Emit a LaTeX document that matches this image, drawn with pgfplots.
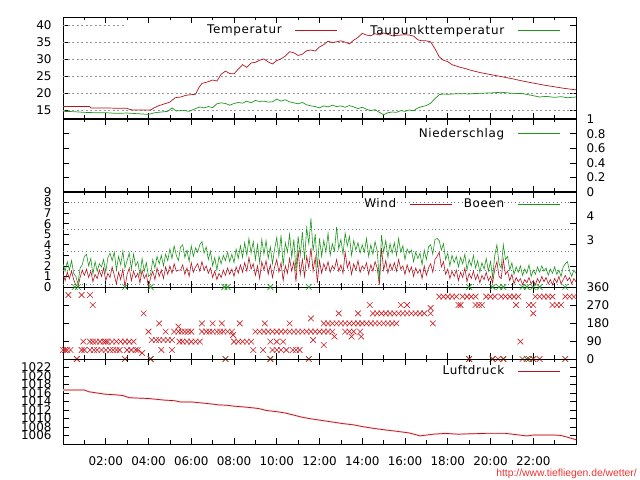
\documentclass[border=0pt]{standalone}
\usepackage{pgfplots}
\pgfplotsset{compat=1.18}
\usepackage{pgfplotstable}
\usepackage{fontspec}
\setmainfont{DejaVu Sans}
\newfontfamily\keyfont[LetterSpace=5.5]{DejaVu Sans}
\newfontfamily\urlfont{Liberation Sans}
\definecolor{gred}{RGB}{180,20,32}
\definecolor{ggreen}{RGB}{30,150,30}
\definecolor{xred}{RGB}{205,30,35}
\definecolor{gridgray}{RGB}{150,150,150}
\definecolor{dotgray}{RGB}{100,125,135}
\definecolor{urlred}{RGB}{240,50,50}

\pgfplotstableread{
h v
0.0 16.0
0.5 16.0
1.0 16.0
1.25 16.0
1.3 15.6
1.6 15.6
2.0 15.6
2.5 15.5
3.0 15.5
3.1 15.2
3.25 15.0
3.6 15.0
4.1 15.0
4.25 15.6
4.5 16.3
4.75 16.8
5.0 17.3
5.25 18.6
5.5 18.8
5.75 19.3
6.0 19.5
6.2 19.6
6.35 21.5
6.5 22.8
6.75 23.2
7.0 23.8
7.2 23.5
7.4 25.5
7.6 26.4
7.8 25.7
8.0 25.6
8.2 27.0
8.4 28.3
8.6 27.5
8.8 28.8
9.0 29.0
9.2 29.6
9.4 30.0
9.6 29.1
9.8 28.5
10.0 29.5
10.2 30.0
10.4 30.8
10.6 32.1
10.8 31.8
11.0 31.0
11.2 31.4
11.4 32.4
11.6 32.6
11.8 32.3
12.0 33.5
12.2 34.2
12.4 35.2
12.6 34.8
12.8 35.0
13.0 35.3
13.2 34.9
13.4 34.4
13.6 35.5
13.8 36.3
14.0 37.5
14.2 37.0
14.4 36.8
14.6 37.4
14.8 37.0
15.0 37.6
15.2 37.2
15.4 36.8
15.6 36.9
15.8 37.0
16.0 37.1
16.2 37.0
16.4 36.7
16.6 35.6
16.8 35.3
17.0 35.3
17.2 35.0
17.4 33.0
17.6 30.6
17.8 29.6
18.0 29.2
18.2 28.3
18.4 27.9
18.6 27.5
18.8 27.2
19.0 26.8
19.5 26.0
20.0 25.4
20.5 24.8
21.0 24.2
21.5 23.5
22.0 22.9
22.5 22.3
23.0 21.8
23.5 21.3
24.0 20.9
}\temptable

\pgfplotstableread{
h v
0.0 14.6
0.5 14.5
1.0 14.3
1.5 14.2
2.0 14.2
2.5 14.0
3.0 14.1
3.5 13.9
4.0 13.7
4.3 14.2
4.6 14.4
4.9 14.6
5.1 15.6
5.3 14.7
5.6 14.9
5.9 14.6
6.2 15.4
6.4 15.9
6.6 15.6
6.8 16.0
7.0 15.7
7.2 16.8
7.4 17.1
7.6 16.9
7.8 16.4
8.0 16.9
8.2 17.2
8.4 17.0
8.6 17.6
8.8 17.1
9.0 17.8
9.2 17.5
9.4 17.6
9.6 17.3
9.8 17.4
10.0 18.2
10.2 17.6
10.4 18.0
10.6 17.4
10.8 17.1
11.0 16.8
11.2 17.2
11.4 16.5
11.6 16.2
11.8 16.0
12.0 15.6
12.2 16.2
12.4 15.9
12.6 16.4
12.8 16.0
13.0 16.2
13.2 15.8
13.4 16.3
13.6 15.9
13.8 15.4
14.0 15.8
14.2 15.2
14.4 14.8
14.6 15.1
14.8 14.3
15.0 13.6
15.2 14.2
15.4 14.4
15.6 14.3
15.8 14.8
16.0 14.6
16.2 15.0
16.4 14.8
16.6 15.6
16.8 16.0
17.0 16.3
17.2 17.0
17.4 18.3
17.6 19.5
17.8 19.7
18.0 19.6
18.5 19.8
19.0 19.7
19.5 19.9
20.0 20.0
20.5 20.2
21.0 19.9
21.5 19.8
22.0 19.2
22.3 18.8
22.6 19.0
23.0 18.7
23.3 18.9
23.6 18.6
24.0 18.8
}\dewtable

\pgfplotstableread{
h w g
0.0 1.2 2.2
0.1 0.6 1.5
0.2 1.4 2.4
0.3 0.8 1.6
0.4 1.5 2.5
0.5 0.7 1.3
0.6 0.2 1.0
0.7 0.0 0.3
0.8 0.9 1.8
0.9 1.6 2.1
1.0 1.1 2.9
1.1 1.7 3.1
1.2 0.9 2.0
1.3 1.5 2.7
1.4 0.5 1.2
1.5 1.2 2.4
1.6 0.8 1.5
1.7 1.6 2.2
1.8 1.0 1.9
1.9 1.8 2.6
2.0 0.6 1.4
2.1 1.3 2.8
2.2 0.9 3.2
2.3 1.9 2.5
2.4 1.1 3.3
2.5 0.3 1.6
2.6 1.4 2.9
2.7 0.7 2.1
2.8 1.7 3.4
2.9 0.0 1.8
3.0 1.2 2.5
3.1 1.8 3.2
3.2 0.6 1.7
3.3 1.5 3.1
3.4 0.9 2.0
3.5 1.3 2.4
3.6 0.4 1.1
3.7 1.6 2.7
3.8 0.8 1.5
3.9 1.2 2.3
4.0 0.0 1.0
4.1 0.9 1.2
4.2 1.5 2.6
4.3 0.7 1.8
4.4 1.8 2.9
4.5 1.0 2.2
4.6 1.6 3.0
4.7 0.8 2.0
4.8 1.9 3.1
4.9 1.2 2.5
5.0 2.0 3.6
5.1 1.3 2.7
5.2 2.2 3.9
5.3 1.5 3.0
5.4 1.6 2.5
5.5 1.6 3.8
5.6 2.1 4.0
5.7 1.2 2.8
5.8 1.8 3.5
5.9 1.0 2.4
6.0 2.3 3.9
6.1 1.4 2.9
6.2 1.9 3.7
6.3 2.2 3.3
6.4 1.5 4.0
6.5 2.4 4.3
6.6 1.6 3.2
6.7 2.0 3.8
6.8 1.3 2.6
6.9 1.8 3.4
7.0 0.9 2.0
7.1 1.5 2.8
7.2 0.7 1.6
7.3 1.3 2.9
7.4 0.9 2.2
7.5 1.6 3.0
7.6 1.1 2.5
7.7 1.8 3.3
7.8 1.2 2.4
7.9 1.7 3.1
8.0 1.0 2.3
8.1 1.9 3.6
8.2 1.3 2.7
8.3 2.1 3.9
8.4 1.4 2.8
8.5 2.3 4.2
8.6 1.5 3.0
8.7 2.8 4.6
8.8 1.7 3.2
8.9 2.2 4.3
9.0 1.1 2.6
9.1 2.0 4.0
9.2 0.8 2.3
9.3 2.4 4.5
9.4 1.6 3.1
9.5 2.5 4.4
9.6 1.2 2.7
9.7 2.1 3.8
9.8 0.9 2.2
9.9 1.9 3.6
10.0 2.6 4.7
10.1 1.4 2.9
10.2 2.3 4.9
10.3 0.6 2.0
10.4 2.0 4.2
10.5 1.3 3.3
10.6 2.7 5.0
10.7 1.5 2.8
10.8 2.4 4.5
10.9 0.5 1.5
11.0 3.5 4.8
11.1 1.2 3.0
11.2 2.6 5.2
11.3 1.0 2.6
11.4 2.9 5.6
11.5 1.8 4.1
11.6 3.7 6.5
11.7 1.5 3.4
11.8 2.8 5.0
11.9 0.4 1.8
12.0 2.5 4.6
12.1 1.3 2.9
12.2 2.2 4.4
12.3 1.6 3.3
12.4 2.4 5.1
12.5 1.4 3.0
12.6 2.0 4.1
12.7 1.7 3.4
12.8 2.6 5.7
12.9 1.5 3.6
13.0 2.1 4.5
13.1 1.3 3.1
13.2 3.3 5.1
13.3 1.8 3.9
13.4 2.4 4.8
13.5 1.2 3.0
13.6 2.2 4.4
13.7 1.6 3.5
13.8 2.5 4.2
13.9 1.4 3.2
14.0 2.0 4.0
14.1 1.7 3.3
14.2 2.3 4.6
14.3 1.2 2.9
14.4 2.1 4.0
14.5 1.5 3.1
14.6 2.4 4.3
14.7 1.8 3.4
14.8 0.2 0.7
14.9 3.7 4.9
15.0 1.6 3.3
15.1 2.5 4.4
15.2 1.3 2.8
15.3 2.2 4.1
15.4 1.6 3.2
15.5 2.3 4.2
15.6 1.5 3.0
15.7 2.6 4.6
15.8 1.7 3.3
15.9 2.0 3.9
16.0 1.2 2.6
16.1 2.1 3.6
16.2 1.4 3.2
16.3 1.9 3.5
16.4 1.0 2.4
16.5 1.8 3.3
16.6 1.3 2.7
16.7 1.7 3.2
16.8 0.8 2.1
16.9 2.0 3.5
17.0 1.1 2.6
17.1 1.8 3.8
17.2 2.2 4.0
17.3 1.4 3.1
17.4 2.6 4.5
17.5 2.9 4.6
17.6 3.3 4.4
17.7 1.9 3.5
17.8 2.4 4.1
17.9 1.2 2.6
18.0 1.7 3.2
18.1 0.8 2.0
18.2 1.5 3.0
18.3 1.0 2.3
18.4 1.6 2.9
18.5 0.6 1.9
18.6 1.4 2.8
18.7 0.9 2.2
18.8 1.8 3.1
18.9 0.5 1.6
19.0 1.3 2.6
19.1 0.8 2.0
19.2 1.5 3.0
19.3 0.7 1.8
19.4 1.2 2.5
19.5 0.4 1.4
19.6 1.1 2.3
19.7 0.7 1.7
19.8 1.4 2.7
19.9 0.6 1.5
20.0 1.0 2.4
20.1 0.4 0.9
20.2 1.7 3.0
20.3 2.4 4.0
20.4 1.0 2.2
20.5 0.8 1.8
20.6 2.6 4.0
20.7 1.2 2.6
20.8 1.5 2.9
20.9 0.6 1.6
21.0 1.2 2.3
21.1 0.3 1.2
21.2 0.9 1.9
21.3 0.5 1.4
21.4 0.8 2.0
21.5 0.2 1.1
21.6 0.7 1.7
21.7 0.4 1.3
21.8 0.9 2.1
21.9 0.3 1.0
22.0 0.6 1.6
22.1 0.2 1.2
22.2 0.8 1.9
22.3 0.4 1.4
22.4 1.0 2.0
22.5 0.5 1.5
22.6 0.9 1.8
22.7 0.3 1.1
22.8 0.7 1.7
22.9 0.2 1.3
23.0 0.8 1.9
23.1 0.4 1.2
23.2 1.0 1.6
23.3 0.3 1.0
23.4 0.7 1.9
23.5 1.1 2.2
23.6 0.6 2.4
23.7 0.9 1.5
23.8 0.3 1.0
23.9 0.8 1.6
24.0 0.5 1.3
}\windtable

\pgfplotstableread{
h d
0.0 45
0.1 45
0.2 45
0.35 45
0.25 320
0.87 320
1.26 320
1.39 270
0.65 0
0.87 45
1.0 45
1.26 45
0.95 87
1.26 87
1.4 87
1.55 87
1.73 87
1.9 87
2.0 87
2.1 87
2.3 87
2.5 87
2.7 87
1.45 45
1.6 45
1.8 45
2.0 45
2.2 45
2.35 45
2.5 45
2.65 45
2.9 87
3.1 87
3.3 87
3.0 45
3.2 45
3.4 45
3.5 45
3.7 30
3.77 228
4.0 137
4.15 95
4.35 95
4.5 95
4.7 95
4.9 95
5.1 95
4.5 178
4.6 45
4.8 137
5.1 45
5.2 137
5.4 137
5.55 137
5.7 137
5.85 137
6.0 137
5.4 162
5.45 87
5.6 87
5.8 87
6.0 87
6.2 87
6.4 87
6.5 178
6.5 137
6.7 137
6.85 137
7.0 137
7.2 137
7.35 137
7.5 137
7.7 137
7.9 137
7.0 178
7.43 178
7.96 120
8.27 178
8.0 87
8.2 87
8.4 87
8.6 87
8.8 87
8.9 45
9.0 137
9.2 137
9.4 137
9.6 137
9.8 137
10.0 137
10.2 137
10.4 137
10.6 137
10.8 137
11.0 137
11.2 137
11.4 137
11.6 137
11.8 137
12.0 137
9.44 178
10.6 178
11.6 203
9.36 45
9.8 45
10.0 45
10.2 45
10.45 45
10.75 45
10.9 45
11.07 45
9.7 87
10.0 87
10.3 87
11.7 95
2.9 0
4.1 0
7.6 0
9.7 0
11.5 0
12.2 178
12.4 178
12.6 178
12.8 178
13.0 178
13.2 178
13.4 178
13.6 178
13.8 178
14.0 178
14.2 178
14.4 178
14.6 178
14.8 178
15.0 178
15.2 178
15.4 178
15.6 178
12.2 137
12.4 137
12.6 137
13.2 137
13.4 137
13.6 137
13.9 137
12.7 112
13.5 112
13.95 112
12.2 70
12.9 228
13.8 228
14.5 228
14.7 228
14.9 228
15.1 228
15.3 228
15.5 228
15.7 228
15.9 228
16.1 228
16.3 228
16.5 228
16.7 228
16.9 228
17.2 228
14.35 270
15.8 270
16.1 270
17.2 255
17.3 178
17.6 312
17.8 312
18.0 312
18.2 312
18.4 312
18.7 312
18.9 312
19.1 312
19.3 312
19.8 312
20.0 312
20.2 312
20.5 312
20.7 312
20.9 312
21.1 312
21.3 312
22.1 312
22.3 312
22.5 312
22.7 312
22.9 312
23.5 312
23.7 312
23.9 312
18.5 270
18.6 270
19.3 270
19.45 270
19.6 270
21.2 270
21.8 270
22.0 270
22.9 270
23.1 270
23.3 270
22.0 228
21.4 87
19.0 0
20.1 0
20.35 0
20.6 0
21.5 0
21.8 0
22.0 0
22.3 0
23.5 0
}\dirtable

\pgfplotstableread{
h d
0.55 360
0.7 360
2.9 360
4.1 360
7.55 360
7.7 360
9.7 360
11.5 360
19.0 360
20.1 360
20.4 360
20.6 360
21.5 360
21.7 360
22.0 360
22.3 360
23.5 360
0.65 0
2.9 0
4.1 0
7.6 0
9.7 0
11.5 0
19.0 0
20.1 0
20.6 0
21.7 0
22.0 0
23.5 0
}\gustdirtable

\pgfplotstableread{
h p
0.0 1016.7
0.5 1016.7
1.0 1016.7
1.2 1016.3
1.6 1016.0
2.0 1015.7
2.4 1015.6
2.8 1015.4
3.1 1014.9
3.5 1014.8
4.0 1014.7
4.4 1014.5
4.8 1014.3
5.2 1014.2
5.5 1013.9
6.0 1013.9
6.4 1013.7
6.8 1013.5
7.3 1013.2
7.7 1013.1
8.0 1012.9
8.5 1012.7
8.9 1012.5
9.2 1012.3
9.5 1011.9
10.0 1011.6
10.4 1011.3
10.8 1010.8
11.1 1010.4
11.5 1010.0
11.9 1009.7
12.3 1009.4
12.7 1009.1
13.1 1008.8
13.6 1008.5
14.0 1008.1
14.5 1007.7
15.1 1007.3
15.6 1007.0
16.2 1006.6
16.5 1006.2
16.7 1005.9
17.0 1006.1
17.3 1006.3
17.9 1006.5
18.5 1006.3
19.0 1006.4
19.8 1006.5
20.7 1006.5
21.2 1006.2
21.7 1005.9
22.0 1006.1
22.5 1006.1
23.0 1006.1
23.3 1006.0
23.6 1005.6
24.0 1005.0
}\presstable

\pgfplotsset{
  panel/.style={
    scale only axis, width=513bp,
    xmin=0, xmax=24,
    xtick={2,4,...,22}, minor xtick={1,3,...,23},
    xticklabels={},
    tick align=inside,
    major tick length=6bp, minor tick length=3.5bp,
    every tick/.style={black, line width=0.6bp},
    every minor tick/.style={black, line width=0.6bp},
    axis line style={black, line width=0.8bp},
    tick label style={font=\fontsize{12}{14}\selectfont},
    /pgf/number format/assume math mode=true,
    /pgf/number format/1000 sep={},
    scaled y ticks=false,
    legend plot pos=right,
    legend cell align=right,
    legend style={draw=none, fill=none, font=\keyfont\fontsize{12}{14}\selectfont, inner xsep=0pt, inner ysep=0pt, anchor=east},
    legend image code/.code={\path (0bp,0bp); \draw[##1] (11bp,0bp) -- (53bp,0bp);},
  },
}

\begin{document}
\begin{tikzpicture}
\path[use as bounding box] (0,0) rectangle (640bp,480bp);

% Temperatur
\begin{axis}[panel, at={(63bp,361bp)}, anchor=south west, height=102bp,
  ymin=12.35, ymax=42.3, ytick={15,20,...,40},
  yticklabel style={xshift=-8bp},
  extra y ticks={15,20,25,30,35}, extra y tick labels={},
  extra y tick style={grid=major, major tick length=0pt},
  major grid style={gridgray, dash pattern=on 2bp off 2.5bp, line width=0.5bp},
  legend columns=2,
  legend style={at={(axis description cs:0.969,0.87)}, /tikz/every even column/.append style={column sep=31bp}},
]
\draw[gridgray, dash pattern=on 2bp off 2.5bp, line width=0.5bp] (axis cs:0,40) -- (axis cs:2.9,40);
\addplot[gred, line width=0.7bp] table[x=h, y=v] {\temptable};
\addlegendentry{Temperatur}
\addplot[ggreen, line width=0.7bp] table[x=h, y=v] {\dewtable};
\addlegendentry{Taupunkttemperatur}
\end{axis}

% Niederschlag
\begin{axis}[panel, at={(63bp,288bp)}, anchor=south west, height=73bp,
  ymin=0, ymax=1.001, ytick={0,0.2,0.4,0.6,0.8,1}, yticklabel pos=right,
  yticklabels={0,0.2,0.4,0.6,0.8,1},
  yticklabel style={xshift=7bp},
  legend style={at={(axis description cs:0.969,0.80)}},
]
\addlegendimage{ggreen, line width=0.7bp}
\addlegendentry{Niederschlag}
\end{axis}

% Wind
\begin{axis}[panel, at={(63bp,193bp)}, anchor=south west, height=95bp,
  ymin=0, ymax=9, ytick={0,1,...,9}, ytick pos=left,
  yticklabel style={xshift=-8bp},
  extra y ticks={0.3,1.6,3.4,5.5,8}, extra y tick labels={},
  extra y tick style={grid=major, major tick length=0pt},
  major grid style={dotgray, dash pattern=on 0.8bp off 3bp, line width=0.6bp},
  legend columns=2,
  legend style={at={(axis description cs:0.969,0.874)}, /tikz/every even column/.append style={column sep=10bp}},
]
\addplot[gred, line width=0.6bp] table[x=h, y=w] {\windtable};
\addlegendentry{Wind}
\addplot[ggreen, line width=0.6bp] table[x=h, y=g] {\windtable};
\addlegendentry{Boeen}
\end{axis}
\begin{axis}[panel, at={(63bp,193bp)}, anchor=south west, height=95bp,
  ymin=0, ymax=9, axis x line=none, axis y line*=right,
  ytick={2,4,6,8}, yticklabels={},
  extra y ticks={4.45,6.7}, extra y tick labels={3,4},
  extra y tick style={major tick length=0pt},
  yticklabel style={xshift=7bp},
]
\end{axis}

% Windrichtung
\begin{axis}[panel, at={(63bp,121bp)}, anchor=south west, height=72bp,
  ymin=0, ymax=360, ytick={0,90,180,270,360}, yticklabel pos=right,
  yticklabel style={xshift=7bp}, clip=false,
]
\addplot[only marks, mark=x, mark size=4bp, ggreen, mark options={line width=0.6bp}] table[x=h, y=d] {\gustdirtable};
\addplot[only marks, mark=x, mark size=4bp, xred, mark options={line width=0.6bp}] table[x=h, y=d] {\dirtable};
\end{axis}

% Luftdruck
\begin{axis}[panel, at={(63bp,36bp)}, anchor=south west, height=85bp,
  ymin=1004, ymax=1024, ytick={1006,1008,...,1022},
  yticklabel style={xshift=-8bp},
  xticklabels={02:00,04:00,06:00,08:00,10:00,12:00,14:00,16:00,18:00,20:00,22:00},
  xticklabel style={yshift=-9bp},
  legend style={at={(axis description cs:0.969,0.859)}},
]
\addplot[red!15, line width=2bp, forget plot] table[x=h, y=p] {\presstable};
\addplot[gred, line width=0.7bp] table[x=h, y=p] {\presstable};
\addlegendentry{Luftdruck}
\end{axis}

\draw[line width=2.6bp] (63bp,361bp) -- (576bp,361bp);
\draw[line width=2.6bp] (63bp,288bp) -- (576bp,288bp);

\node[anchor=base east, text=urlred, font=\urlfont\fontsize{10.4}{12}\selectfont, inner sep=0pt] at (637bp,4bp) {http://www.tiefliegen.de/wetter/};
\end{tikzpicture}
\end{document}
